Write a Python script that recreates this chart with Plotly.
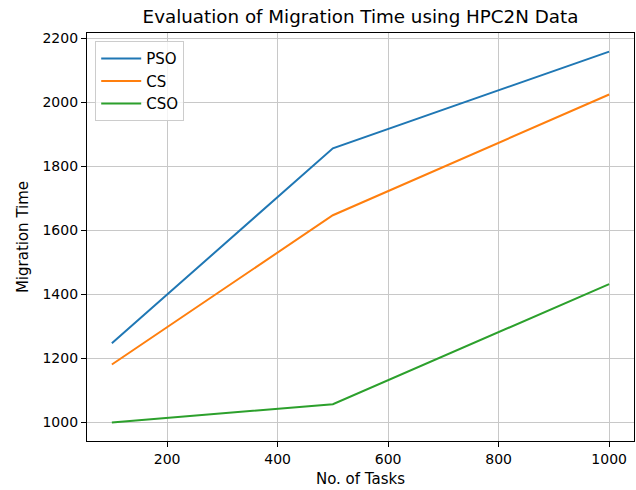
import plotly.graph_objects as go

tasks = [100, 500, 1000]
pso = [1247, 1856, 2158]
cs = [1181, 1647, 2024]
cso = [1000, 1057, 1432]

series = [("PSO", pso, "#1f77b4"), ("CS", cs, "#ff7f0e"), ("CSO", cso, "#2ca02c")]

fig = go.Figure()
for name, vals, col in series:
    fig.add_trace(go.Scatter(x=tasks, y=vals, mode="lines", name=name,
                             line=dict(color=col, width=2)))

font = "DejaVu Sans, sans-serif"
axis_common = dict(showline=True, linecolor="black", linewidth=1.2, mirror=True,
                   ticks="outside", ticklen=5, tickcolor="black", tickwidth=1,
                   showgrid=True, gridcolor="#c8c8c8", gridwidth=1.3,
                   zeroline=False, tickfont=dict(family=font, size=14, color="black"))

fig.update_layout(
    width=636, height=490,
    margin=dict(l=87, r=2, t=33, b=49),
    paper_bgcolor="white", plot_bgcolor="white",
    title=dict(text="Evaluation of Migration Time using HPC2N Data",
               x=(87 + 634) / 2 / 636, xanchor="center", y=1 - 17 / 490, yanchor="middle",
               font=dict(family=font, size=18.3, color="black")),
    xaxis=dict(range=[55, 1045], tickvals=[200, 400, 600, 800, 1000],
               title=dict(text="No. of Tasks", font=dict(family=font, size=15, color="black"), standoff=7),
               **axis_common),
    yaxis=dict(range=[942, 2216], tickvals=[1000, 1200, 1400, 1600, 1800, 2000, 2200],
               title=dict(text="Migration Time", font=dict(family=font, size=15, color="black"), standoff=10),
               **axis_common),
    legend=dict(x=0.015, y=0.98, xanchor="left", yanchor="top",
                bgcolor="rgba(255,255,255,0.8)", bordercolor="#cccccc", borderwidth=1,
                font=dict(family=font, size=15, color="black"), tracegroupgap=4,
                itemwidth=40),
    showlegend=True,
)

fig.write_html("out.html")
